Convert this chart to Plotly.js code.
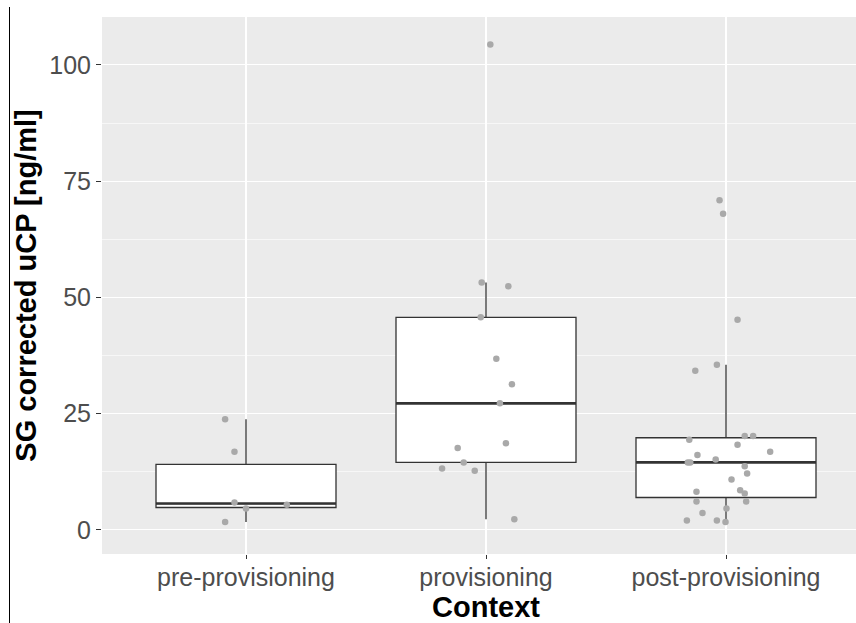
<!DOCTYPE html>
<html>
<head>
<meta charset="utf-8">
<script src="https://cdn.plot.ly/plotly-3.0.1.min.js"></script>
<style>
  html, body { margin: 0; padding: 0; background: #ffffff; overflow: hidden; }
  #wrap { position: relative; width: 856px; height: 623px; overflow: hidden; }
  #chart { position: absolute; left: 0; top: 0; width: 872px; height: 623px; }
  #edge { position: absolute; left: 9px; top: 7px; width: 1px; height: 616px; background: #000000; }
</style>
</head>
<body>
<div id="wrap"><div id="chart"></div><div id="edge"></div></div>
<script>
// Categories and tick labels
const categories = ["pre-provisioning", "provisioning", "post-provisioning"];
const categoryPositions = [1, 2, 3];
const yTicks = [0, 25, 50, 75, 100];

const preValues  = [23.8, 16.8, 5.9, 4.6, 5.4, 1.7];
const provValues = [53.2, 52.4, 45.7, 36.8, 31.3, 27.2, 18.6, 17.6, 14.5, 13.2, 12.7, 2.3, 104.4];
const postValues = [70.9, 68.0, 45.2, 34.2, 35.5, 20.2, 20.2, 19.4, 18.3, 16.8, 16.1, 15.1, 14.5, 14.5,
                    13.7, 12.1, 10.8, 8.2, 8.5, 7.8, 6.1, 6.1, 4.6, 3.6, 2.0, 2.0, 1.7];

// Horizontal jitter offsets of each point (category units)
const preJitter  = [-0.087, -0.048, -0.048, 0.000, 0.170, -0.087];
const provJitter = [-0.018, 0.093, -0.022, 0.043, 0.108, 0.058, 0.083, -0.118, -0.093, -0.183, -0.047, 0.118, 0.018];
const postJitter = [-0.027, -0.012, 0.048, -0.128, -0.038, 0.078, 0.113, -0.153, 0.048, 0.184, -0.119, -0.043,
                    -0.159, -0.149, 0.078, 0.088, 0.023, -0.123, 0.059, 0.078, -0.123, 0.084, 0.002, -0.098,
                    -0.163, -0.038, -0.002];

const groups = [preValues, provValues, postValues];
const jitters = [preJitter, provJitter, postJitter];

function q7(s, p) {
  const h = (s.length - 1) * p, lo = Math.floor(h);
  return lo + 1 < s.length ? s[lo] + (h - lo) * (s[lo + 1] - s[lo]) : s[lo];
}
function stats(vals) {
  const s = vals.slice().sort((a, b) => a - b);
  const q1 = q7(s, 0.25), med = q7(s, 0.5), q3 = q7(s, 0.75);
  const iqr = q3 - q1;
  const up = Math.max(...s.filter(v => v <= q3 + 1.5 * iqr));
  const lo = Math.min(...s.filter(v => v >= q1 - 1.5 * iqr));
  return { q1, med, q3, up, lo };
}

const boxWidth = 0.75;
const traces = [];
groups.forEach((vals, i) => {
  const st = stats(vals);
  const xc = categoryPositions[i];
  traces.push({
    type: 'box', x: [xc], q1: [st.q1], median: [st.med], q3: [st.q3],
    lowerfence: [st.lo], upperfence: [st.up], width: boxWidth,
    boxpoints: false, whiskerwidth: 0, fillcolor: '#ffffff',
    line: { color: '#333333', width: 1.3 }, hoverinfo: 'skip', showlegend: false
  });
  traces.push({
    type: 'scatter', mode: 'lines', x: [xc - boxWidth / 2, xc + boxWidth / 2], y: [st.med, st.med],
    line: { color: '#333333', width: 2.6 }, hoverinfo: 'skip', showlegend: false
  });
});
groups.forEach((vals, i) => {
  traces.push({
    type: 'scatter', mode: 'markers',
    x: vals.map((v, k) => categoryPositions[i] + jitters[i][k]), y: vals,
    marker: { color: '#A9A9A9', size: 6.5 }, hoverinfo: 'skip', showlegend: false
  });
});

const fontFam = '"Liberation Sans", Arial, sans-serif';
const layout = {
  width: 872, height: 623,
  margin: { l: 102, r: 2, t: 17, b: 69 },
  paper_bgcolor: '#ffffff', plot_bgcolor: '#EBEBEB',
  font: { family: fontFam },
  xaxis: {
    range: [0.4, 3.6], tickvals: categoryPositions, ticktext: categories,
    showgrid: true, gridcolor: '#ffffff', gridwidth: 1.2, zeroline: false, showline: false,
    ticks: 'outside', ticklen: 4, tickcolor: '#333333', tickwidth: 1,
    ticklabelstandoff: -3,
    tickfont: { size: 25, color: '#4D4D4D', family: fontFam },
    title: { text: '<b>Context</b>', font: { size: 29, color: '#000000', family: fontFam }, standoff: 9 },
    automargin: false
  },
  yaxis: {
    range: [-5.2, 110.3], tickvals: yTicks,
    showgrid: true, gridcolor: '#ffffff', gridwidth: 1.2, zeroline: false, showline: false,
    minor: { dtick: 12.5, tick0: 0, showgrid: true, gridcolor: '#ffffff', gridwidth: 0.6, ticks: '' },
    ticks: 'outside', ticklen: 5, tickcolor: '#333333', tickwidth: 1,
    tickfont: { size: 25, color: '#4D4D4D', family: fontFam },
    title: { text: '<b>SG corrected uCP [ng/ml]</b>', font: { size: 29, color: '#000000', family: fontFam }, standoff: 4 },
    automargin: false
  }
};
Plotly.newPlot('chart', traces, layout, { displayModeBar: false, staticPlot: true });
</script>
</body>
</html>
